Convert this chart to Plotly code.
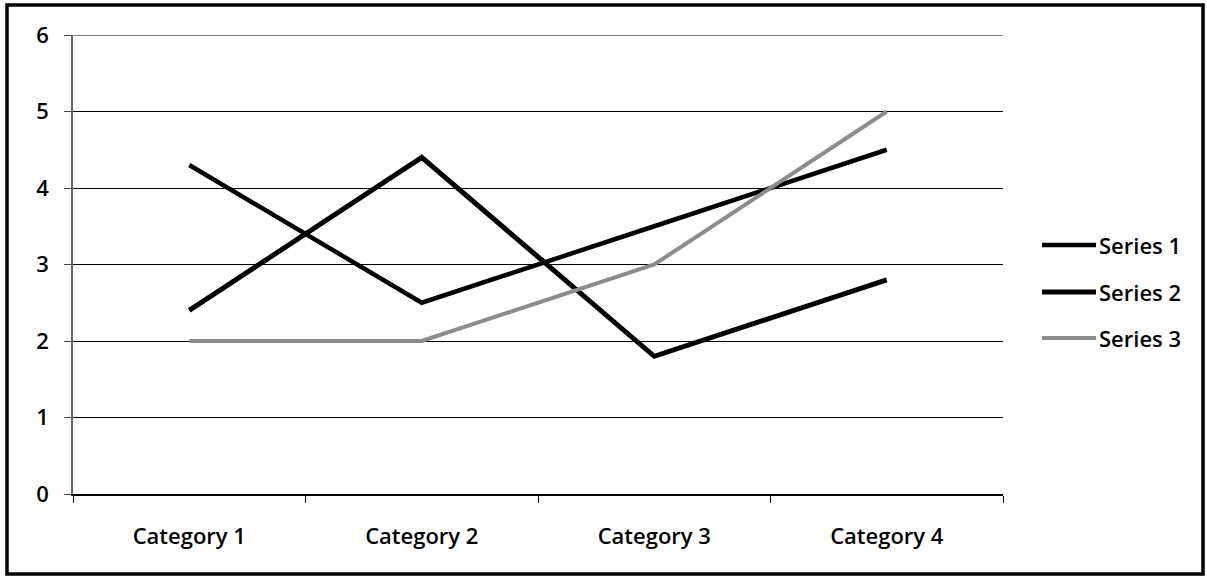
import plotly.graph_objects as go

categories = ["Category 1", "Category 2", "Category 3", "Category 4"]
series_names = ["Series 1", "Series 2", "Series 3"]
series_1 = [4.3, 2.5, 3.5, 4.5]
series_2 = [2.4, 4.4, 1.8, 2.8]
series_3 = [2.0, 2.0, 3.0, 5.0]
y_ticks = [0, 1, 2, 3, 4, 5, 6]

W, H = 1207, 578
ML, MR, MT, MB = 73, 204, 35, 84
pw, ph = W - ML - MR, H - MT - MB


def px_x(p):
    return (p - ML) / pw


def px_y(p):
    return (H - MB - p) / ph


font = dict(family="Open Sans, Liberation Sans, sans-serif", size=22,
            color="black", weight=600)

styles = [
    dict(color="black", width=4.5),
    dict(color="black", width=5),
    dict(color="#8c8c8c", width=4),
]

fig = go.Figure()
for name, vals, st in zip(series_names, [series_1, series_2, series_3], styles):
    fig.add_trace(go.Scatter(x=categories, y=vals, name=name, mode="lines",
                             line=st, showlegend=False))

# legend on the right: long line swatch followed by the series name
shapes = []
annotations = []
legend_rows = [245, 292, 338]
for name, st, row in zip(series_names, styles, legend_rows):
    shapes.append(dict(type="line", xref="paper", yref="paper",
                       x0=px_x(1042), x1=px_x(1096), y0=px_y(row), y1=px_y(row),
                       line=st))
    annotations.append(dict(text=name, xref="paper", yref="paper",
                            x=px_x(1097), y=px_y(row), xanchor="left", yanchor="middle",
                            showarrow=False, font=font))

# top gridline at the upper end of the value axis
shapes.append(dict(type="line", xref="paper", yref="y", x0=0, x1=1,
                   y0=y_ticks[-1], y1=y_ticks[-1],
                   line=dict(color="black", width=1), layer="below"))

# outer frame
shapes.append(dict(type="rect", xref="paper", yref="paper",
                   x0=px_x(7), x1=px_x(1203), y0=px_y(574), y1=px_y(5),
                   line=dict(color="black", width=3.5), layer="below"))

fig.update_layout(
    width=W, height=H,
    margin=dict(l=ML, r=MR, t=MT, b=MB, pad=0),
    paper_bgcolor="white", plot_bgcolor="white",
    font=font,
    showlegend=False,
    xaxis=dict(type="category", showgrid=False, showline=True, linecolor="black",
               linewidth=1.5, ticks="outside", tickson="boundaries", ticklen=7,
               tickcolor="black", tickfont=font, ticklabelstandoff=22,
               range=[-0.5, 3.5], zeroline=False),
    yaxis=dict(range=[0, 6], tickvals=y_ticks, showgrid=True, gridcolor="black",
               gridwidth=1, showline=True, linecolor="#666666", linewidth=1.5,
               ticks="outside", ticklen=7, tickcolor="#444444", tickfont=font,
               ticklabelstandoff=11, zeroline=False),
    shapes=shapes,
    annotations=annotations,
)

fig.write_html("out.html")
